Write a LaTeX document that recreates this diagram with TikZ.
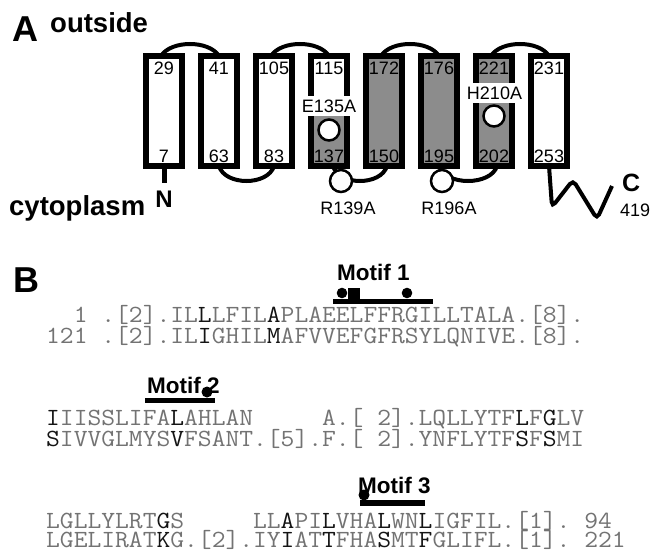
\documentclass[tikz,border=0pt]{standalone}
\usepackage{fontspec}
\setmainfont{Liberation Sans}
\usepackage{graphicx}
\usetikzlibrary{calc}
\definecolor{boxgray}{RGB}{140,140,140}
\definecolor{seqgray}{RGB}{115,115,115}
\definecolor{seqdark}{RGB}{20,20,20}
\newcommand\dk[1]{\textcolor{seqdark}{#1}}
\newcommand\seqline[1]{\scalebox{1.14}[1.05]{\fontsize{23.5}{24}\selectfont\ttfamily\color{seqgray}#1}}
\pgfdeclarelayer{bg}
\pgfsetlayers{bg,main}
\begin{document}
\begin{tikzpicture}[x=1pt,y=-1pt,
  tm/.style={draw, line width=6pt, minimum width=36pt, minimum height=110pt, inner sep=0pt, outer sep=0pt, fill=white},
  tmg/.style={tm, fill=boxgray},
  loopline/.style={line width=4pt},
  num/.style={font=\fontsize{18}{20}\selectfont, inner sep=0pt, anchor=base},
  mutlbl/.style={fill=white, font=\fontsize{18}{20}\selectfont, inner sep=0pt, minimum height=20pt},
  res/.style={circle, draw, fill=white, line width=2.5pt, minimum size=21pt, inner sep=0pt},
  big/.style={font=\fontsize{36}{40}\selectfont\bfseries, inner sep=0pt, anchor=base west},
  side/.style={font=\fontsize{27.5}{30}\selectfont\bfseries, inner sep=0pt, anchor=base west},
  motif/.style={font=\fontsize{22.5}{24}\selectfont\bfseries, inner sep=0pt, anchor=base west},
  seq/.style={inner sep=0pt, anchor=base west}]
\useasboundingbox (0,0) rectangle (653,553);
\begin{pgfonlayer}{bg}
\fill[white] (0,0) rectangle (653,553);
\end{pgfonlayer}

% ---------- Part A ----------
\node[big] (labA) at (12,42) {A};
\node[side] (outside) at (50,33) {outside};
\node[side] (cyto) at (9,216) {cytoplasm};

% box 4 partial fill
\fill[white] (311,56) rectangle (347,113);
\fill[boxgray] (311,113) rectangle (347,166);

\node[tm] (b1) at (164,111) {};
\node[tm] (b2) at (219,111) {};
\node[tm] (b3) at (274,111) {};
\node[tm, fill=none] (b4) at (329,111) {};
\node[tmg] (b5) at (384,111) {};
\node[tmg] (b6) at (439,111) {};
\node[tmg] (b7) at (494,111) {};
\node[tm] (b8) at (549,111) {};

\begin{pgfonlayer}{bg}
\draw[loopline] ([xshift=-3pt]b1.north) .. controls +(10,-16) and +(-10,-16) .. (b2.north);
\draw[loopline] ([xshift=-3pt]b3.north) .. controls +(10,-16) and +(-10,-16) .. (b4.north);
\draw[loopline] ([xshift=-3pt]b5.north) .. controls +(10,-16) and +(-10,-16) .. (b6.north);
\draw[loopline] ([xshift=-3pt]b7.north) .. controls +(10,-16) and +(-10,-16) .. (b8.north);
\draw[loopline] (b2.south) .. controls +(6,20) and +(-6,20) .. (b3.south);
\draw[loopline] ([xshift=4pt]b4.south) .. controls +(6,20) and +(-6,20) .. ([xshift=3pt]b5.south);
\draw[loopline] (b6.south) .. controls +(6,20) and +(-6,20) .. ([xshift=3pt]b7.south);
\coordinate (nend) at (164,183);
\draw[line width=5pt] (b1.south) -- (nend);
\coordinate (cend) at (612,186);
\draw[loopline, rounded corners=5pt] (b8.south) -- (552,207) -- (573,180) -- (597,219) -- (cend);
\end{pgfonlayer}

% numbers
\foreach \n/\t/\b in {b1/29/7, b2/41/63, b3/105/83, b4/115/137, b5/172/150, b6/176/195, b7/221/202, b8/231/253}{
  \node[num] (\n t) at ([yshift=-19pt]\n.north) {\t};
  \node[num] (\n b) at ([yshift=3.5pt]\n.south) {\b};
}

% mutation labels and residues
\node[mutlbl, minimum width=59pt] (e135) at (329,106) {E135A};
\node[res] (e135c) at (329,130) {};
\node[mutlbl, minimum width=65pt] (h210) at (494.5,93) {H210A};
\node[res] (h210c) at (494,116) {};
\node[res, minimum size=22pt] (r139c) at (341,181) {};
\node[res, minimum size=22pt] (r196c) at (442,181) {};
\node[num] (r139) at (348,215) {R139A};
\node[num] (r196) at (449,215) {R196A};

\node[font=\fontsize{24}{26}\selectfont\bfseries, inner sep=0pt, anchor=base] (nN) at (164,208) {N};
\node[font=\fontsize{25}{26}\selectfont\bfseries, inner sep=0pt, anchor=base west] (nC) at (622,192) {C};
\node[num, anchor=base west] (n419) at (620,217) {419};

% ---------- Part B ----------
\node[big] (labB) at (13,293) {B};

\node[motif] (m1) at (337,280) {Motif 1};
\fill (333,298.5) rectangle (433,304);
\fill (342,293) circle (5.3);
\fill (348,288) rectangle (360,298.5);
\fill (407,293) circle (5.3);

\node[seq] (s1a) at (46,322) {\seqline{~~1~.[2].IL\dk{L}LFIL\dk{A}PLAEELFFRGILLTALA.[8].}};
\node[seq] (s1b) at (46,343) {\seqline{121~.[2].IL\dk{I}GHIL\dk{M}AFVVEFGFRSYLQNIVE.[8].}};

\node[motif] (m2) at (147,393) {Motif 2};
\fill (145,397.5) rectangle (215,403);
\fill (207,392) circle (5.5);

\node[seq] (s2a) at (46,425) {\seqline{\dk{I}IISSLIFA\dk{L}AHLAN~~~~~A.[~2].LQLLYTF\dk{L}F\dk{G}LV}};
\node[seq] (s2b) at (46,446) {\seqline{\dk{S}IVVGLMYS\dk{V}FSANT.[5].F.[~2].YNFLYTF\dk{S}F\dk{S}MI}};

\node[motif] (m3) at (358,493) {Motif 3};
\fill (360,500) rectangle (425,505.5);
\fill (364,495) circle (5.5);

\node[seq] (s3a) at (46,528.5) {\seqline{LGLLYLRT\dk{G}S~~~~~LL\dk{A}PI\dk{L}VHA\dk{L}WN\dk{L}IGFIL.[1].~94}};
\node[seq] (s3b) at (46,547.5) {\seqline{LGELIRAT\dk{K}G.[2].IY\dk{I}AT\dk{T}FHA\dk{S}MT\dk{F}GLIFL.[1].~221}};
\end{tikzpicture}
\end{document}
